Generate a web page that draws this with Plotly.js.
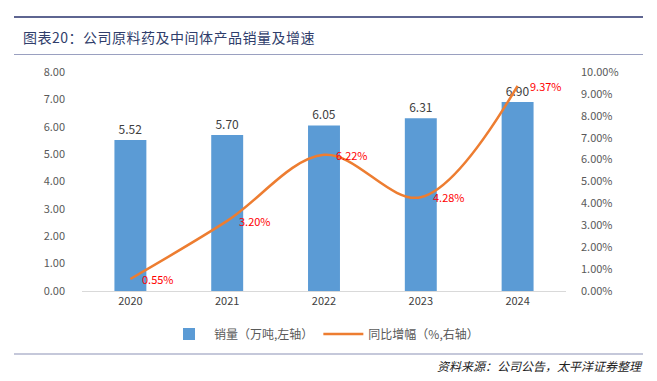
<!DOCTYPE html>
<html><head><meta charset="utf-8">
<script src="https://cdn.plot.ly/plotly-3.0.1.min.js"></script>
<style>
body{margin:0;padding:0;background:#fff;font-family:"Noto Sans CJK SC",sans-serif;}
#wrap{position:relative;width:657px;height:381px;overflow:hidden;}
#chart{position:absolute;left:0;top:0;width:657px;height:381px;}
.hline{position:absolute;left:14px;width:629px;}
#title{position:absolute;left:23px;top:27px;font-size:14px;color:#2F3D6B;letter-spacing:0.5px;}
#src{position:absolute;right:16px;top:357px;font-size:12px;color:#222;font-style:italic;}
</style></head>
<body><div id="wrap">
<div id="chart"></div>
<div class="hline" style="top:16px;height:2px;background:#5E6591;"></div>
<div id="title">图表20：公司原料药及中间体产品销量及增速</div>
<div class="hline" style="top:54px;height:1px;background:#9AA0C0;"></div>
<div class="hline" style="top:353px;height:2px;background:#C5C8DA;"></div>
<div id="src">资料来源：公司公告，太平洋证券整理</div>
</div>
<script>
const years = ['2020','2021','2022','2023','2024'];
const sales = [5.52, 5.70, 6.05, 6.31, 6.90];
const growth = [0.55, 3.20, 6.22, 4.28, 9.37];
const salesLabels = ['5.52','5.70','6.05','6.31','6.90'];
const growthLabels = ['0.55%','3.20%','6.22%','4.28%','9.37%'];
const leftTicks = [0,1,2,3,4,5,6,7,8];
const leftTickLabels = ['0.00','1.00','2.00','3.00','4.00','5.00','6.00','7.00','8.00'];
const rightTicks = [0,1,2,3,4,5,6,7,8,9,10];
const rightTickLabels = ['0.00%','1.00%','2.00%','3.00%','4.00%','5.00%','6.00%','7.00%','8.00%','9.00%','10.00%'];

const font = "Noto Sans CJK SC, sans-serif";
const data = [
  {type:'bar', x:years, y:sales, name:'销量（万吨,左轴）', marker:{color:'#5B9BD5'},
   width:0.33, text:salesLabels, textposition:'outside', cliponaxis:false,
   textfont:{color:'#404040', size:12, family:font}, hoverinfo:'none'},
  {type:'scatter', mode:'lines', x:years, y:growth, yaxis:'y2', name:'同比增幅（%,右轴）',
   line:{color:'#ED7D31', width:2.5, shape:'spline', smoothing:1}, cliponaxis:false, hoverinfo:'none'}
];
const annotations = years.map((yr, i) => ({
  x: i, y: growth[i], xref:'x', yref:'y2', text: growthLabels[i], showarrow:false,
  xanchor:'left', yanchor:'middle', xshift:10,
  font:{color:'#FF0000', size:11, family:font}
}));
const layout = {
  width:657, height:381,
  margin:{l:82, r:91, t:72, b:90},
  paper_bgcolor:'#fff', plot_bgcolor:'#fff',
  showlegend:true,
  font:{family:font, color:'#595959', size:11},
  xaxis:{type:'category', categoryarray:years, showgrid:false, showline:true, linecolor:'#D9D9D9', linewidth:1,
         ticks:'', tickfont:{size:11, color:'#404040'}},
  yaxis:{range:[0,8], tickmode:'array', tickvals:leftTicks, ticktext:leftTickLabels, showgrid:false, zeroline:false,
         showline:false, ticks:'', ticklabelstandoff:16, tickfont:{size:11, color:'#595959'}},
  yaxis2:{range:[0,10], overlaying:'y', side:'right', tickmode:'array', tickvals:rightTicks, ticktext:rightTickLabels,
          showgrid:false, zeroline:false, showline:false, ticks:'', ticklabelstandoff:14,
          tickfont:{size:11, color:'#595959'}},
  legend:{orientation:'h', x:0.5, xanchor:'center', y:-0.13, yanchor:'top',
          font:{size:12, color:'#595959'}, itemwidth:40, traceorder:'normal'},
  annotations: annotations,
  bargap:0.66
};
Plotly.newPlot('chart', data, layout, {staticPlot:true, displayModeBar:false});
</script>
</body></html>
